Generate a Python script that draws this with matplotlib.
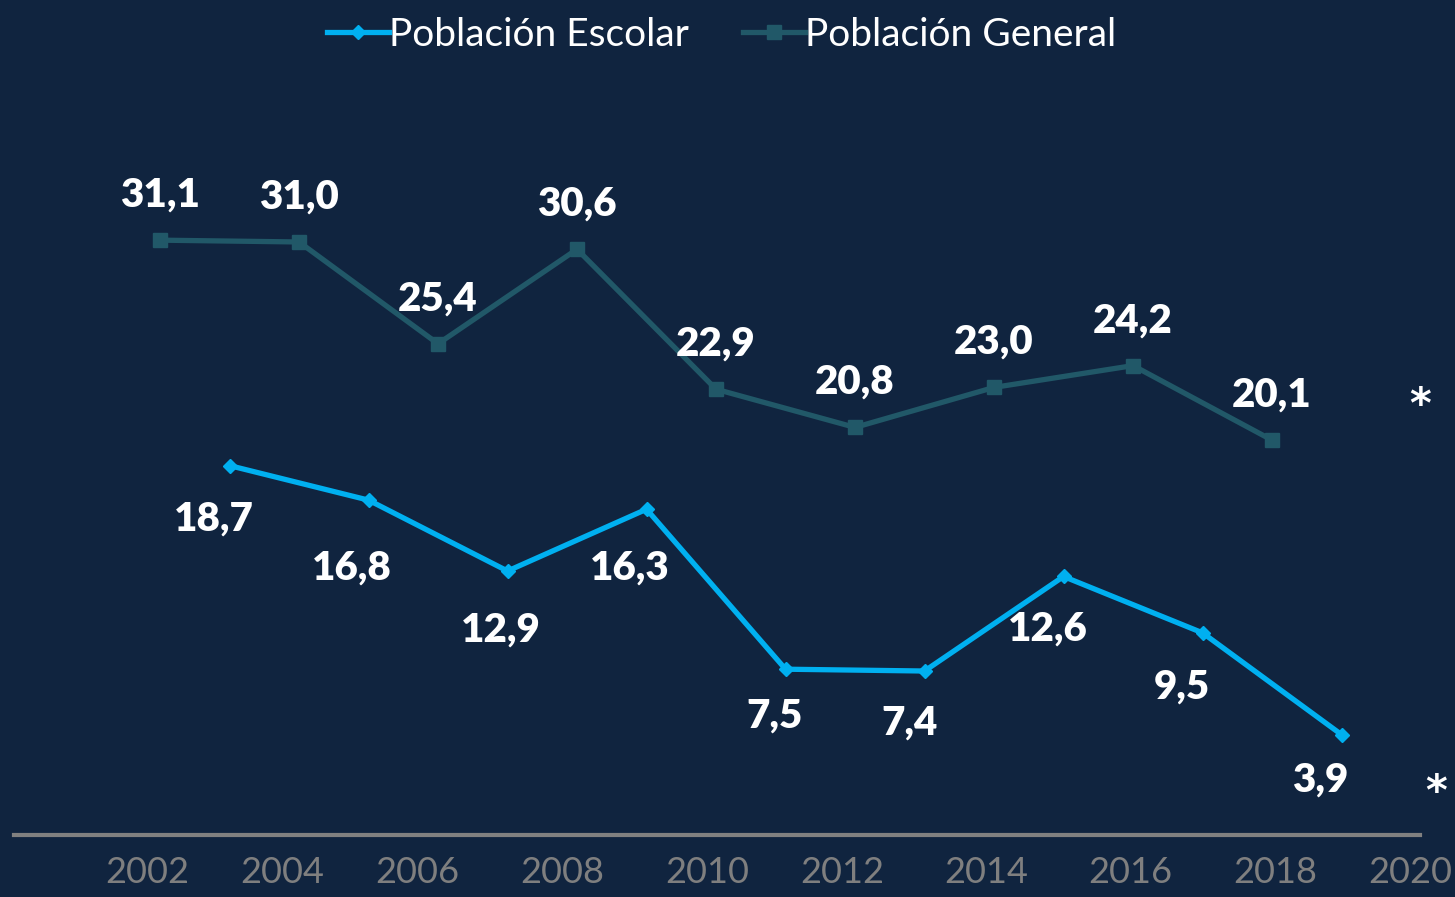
import matplotlib as mpl
mpl.use('Agg')
import matplotlib.pyplot as plt

mpl.rcParams['font.family'] = ['Lato', 'DejaVu Sans']

# data
years_general = [2002, 2004, 2006, 2008, 2010, 2012, 2014, 2016, 2018]
general = [31.1, 31.0, 25.4, 30.6, 22.9, 20.8, 23.0, 24.2, 20.1]
years_escolar = [2003, 2005, 2007, 2009, 2011, 2013, 2015, 2017, 2019]
escolar = [18.7, 16.8, 12.9, 16.3, 7.5, 7.4, 12.6, 9.5, 3.9]
tick_labels = ['2002', '2004', '2006', '2008', '2010', '2012', '2014', '2016', '2018', '2020']
tick_pos = [2001.81, 2003.76, 2005.70, 2007.78, 2009.87, 2011.81, 2013.88, 2015.96, 2018.04, 2019.99]

# label offsets (pixels) for the escolar series, as placed in the original
esc_dx = [-16, -17, -7, -17, -11, -15, -16, -21, -21]
esc_dy = [-53, -68, -59, -59, -47, -52, -53, -54, -45]

bg = '#10243f'
teal = '#215868'
blue = '#00b0f0'

fig = plt.figure(figsize=(14.55, 8.97), dpi=100)
fig.patch.set_facecolor(bg)
ax = fig.add_axes([14 / 1455, 62 / 897, 1406 / 1455, 835 / 897])
ax.set_facecolor(bg)

ax.plot(years_general, general, color=teal, lw=3.8, marker='s', markersize=10,
        label='Población General')
ax.plot(years_escolar, escolar, color=blue, lw=3.8, marker='D', markersize=7,
        label='Población Escolar')

ax.set_xlim(1999.899, 2020.129)
ax.set_ylim(-1.62, 44.31)

for s in ['top', 'right', 'left']:
    ax.spines[s].set_visible(False)
ax.spines['bottom'].set_color('#808080')
ax.spines['bottom'].set_linewidth(3)
ax.set_yticks([])
ax.set_xticks(tick_pos)
ax.set_xticklabels(tick_labels, color='#7f7f7f', fontsize=26)
ax.tick_params(axis='x', length=0, pad=15)

px = 72 / 100.0  # pixels -> points


def fmt(v):
    return ('%.1f' % v).replace('.', ',')


for x, v in zip(years_general, general):
    ax.annotate(fmt(v), (x, v), xytext=(0, 45 * px), textcoords='offset points',
                ha='center', va='center', color='white', fontsize=29, fontweight='heavy')
for x, v, dx, dy in zip(years_escolar, escolar, esc_dx, esc_dy):
    ax.annotate(fmt(v), (x, v), xytext=(dx * px, dy * px), textcoords='offset points',
                ha='center', va='center', color='white', fontsize=29, fontweight='heavy')

ax.annotate('*', (years_general[-1], general[-1]), xytext=(148 * px, 34 * px),
            textcoords='offset points', ha='center', va='center', color='white',
            fontsize=30, fontweight='bold', family='DejaVu Sans', annotation_clip=False)
ax.annotate('*', (years_escolar[-1], escolar[-1]), xytext=(95 * px, -58 * px),
            textcoords='offset points', ha='center', va='center', color='white',
            fontsize=30, fontweight='bold', family='DejaVu Sans', annotation_clip=False)

h, l = ax.get_legend_handles_labels()
leg = fig.legend(h[::-1], l[::-1], loc='upper center', bbox_to_anchor=(0.496, 1.02), ncol=2,
                 frameon=False, fontsize=28, handlelength=1.6, handletextpad=0.0,
                 columnspacing=1.4, labelcolor='white')

fig.savefig('out.png', dpi=100, facecolor=bg)
